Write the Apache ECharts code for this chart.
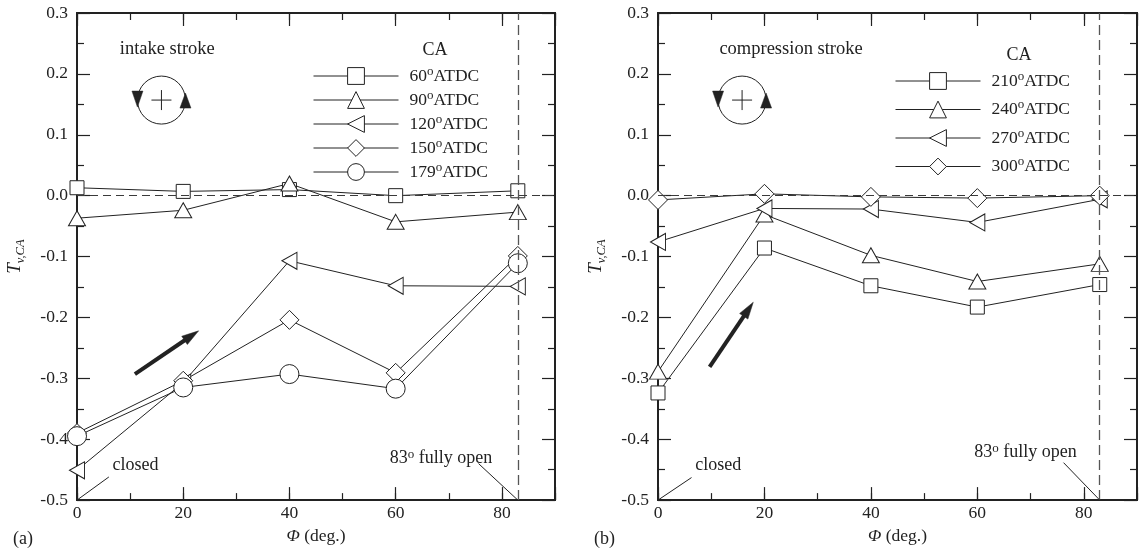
<!DOCTYPE html>
<html><head><meta charset="utf-8">
<script src="https://cdn.jsdelivr.net/npm/echarts@6/dist/echarts.min.js"></script>
<style>html,body{margin:0;padding:0;background:#fff}#c{width:1142px;height:550px}</style>
</head><body><div id="c"></div>
<script>
// ---------------- DATA ----------------
const phi = [0, 20, 40, 60, 83];
const intakeNames = ['60°ATDC', '90°ATDC', '120°ATDC', '150°ATDC', '179°ATDC'];
const intake60  = [0.013, 0.007, 0.010, 0.000, 0.008];
const intake90  = [-0.037, -0.024, 0.020, -0.043, -0.027];
const intake120 = [-0.451, -0.307, -0.107, -0.148, -0.149];
const intake150 = [-0.390, -0.304, -0.204, -0.291, -0.099];
const intake179 = [-0.395, -0.315, -0.293, -0.317, -0.111];
const compNames = ['210°ATDC', '240°ATDC', '270°ATDC', '300°ATDC'];
const comp210 = [-0.324, -0.086, -0.148, -0.183, -0.146];
const comp240 = [-0.289, -0.031, -0.098, -0.141, -0.112];
const comp270 = [-0.076, -0.021, -0.022, -0.044, -0.006];
const comp300 = [-0.007, 0.003, -0.002, -0.004, 0.000];
const xMin = 0, xMax = 90, xMajor = 20, xMinor = 10;
const yMin = -0.5, yMax = 0.3, yMajor = 0.1;
const fullyOpen = 83;
const panelTitles = ['intake stroke', 'compression stroke'];
const panelLetters = ['(a)', '(b)'];
// annotation anchor points in data units
const strokeLabelPos = [[17, 0.24], [25, 0.24]];
const rotIconPos = [[15.9, 0.157], [15.8, 0.157]];
const boldArrowTail = [[10.9, -0.293], [9.7, -0.281]];
const boldArrowHead = [[22.9, -0.222], [17.9, -0.175]];
const closedLineEnd = [[6.0, -0.462], [6.3, -0.463]];
const closedTextPos = [[6.7, -0.443], [7.0, -0.443]];
const openLineStart = [[75.6, -0.44], [76.2, -0.4385]];
const openTextPos = [[58.9, -0.432], [59.4, -0.422]];

// ---------------- STYLE ----------------
const FONT = "'Liberation Serif','Times New Roman',serif";
const INK = '#222';
const leftTri = 'path://M0,5L10,0L10,10Z';
const symbols = ['rect', 'triangle', leftTri, 'diamond', 'circle'];
const symSizes = [14, [17, 15], [15, 17], 19, 19];

const chart = echarts.init(document.getElementById('c'), null, {renderer: 'canvas'});

const grids = [
  {left: 77, top: 13, width: 478, height: 491},
  {left: 658, top: 13, width: 479, height: 491}
];

function xAxes(g) {
  const base = {type: 'value', gridIndex: g, min: xMin, max: xMax, splitLine: {show: false},
    axisLine: {show: true, onZero: false, lineStyle: {color: INK, width: 2}}};
  return [
    Object.assign({}, base, {position: 'bottom', interval: xMajor,
      axisTick: {inside: true, length: 13, lineStyle: {color: INK, width: 1.2}},
      axisLabel: {fontFamily: FONT, fontSize: 17.5, color: INK, margin: 4,
        formatter: v => (v === xMax ? '' : String(v))},
      name: '{i|Φ} (deg.)', nameLocation: 'middle', nameGap: 24,
      nameTextStyle: {fontFamily: FONT, fontSize: 17.5, color: INK,
        rich: {i: {fontFamily: FONT, fontSize: 17.5, fontStyle: 'italic', color: INK}}}}),
    Object.assign({}, base, {position: 'bottom', interval: xMinor,
      axisTick: {inside: true, length: 7, lineStyle: {color: INK, width: 1.2}}, axisLabel: {show: false}}),
    Object.assign({}, base, {position: 'top', interval: xMajor,
      axisTick: {inside: true, length: 13, lineStyle: {color: INK, width: 1.2}}, axisLabel: {show: false}}),
    Object.assign({}, base, {position: 'top', interval: xMinor,
      axisTick: {inside: true, length: 7, lineStyle: {color: INK, width: 1.2}}, axisLabel: {show: false}})
  ];
}
function yAxes(g) {
  const base = {type: 'value', gridIndex: g, min: yMin, max: yMax, interval: yMajor, splitLine: {show: false},
    axisLine: {show: true, onZero: false, lineStyle: {color: INK, width: 2}},
    axisTick: {inside: true, length: 13, lineStyle: {color: INK, width: 1.2}},
    minorTick: {show: true, splitNumber: 2, length: 7, lineStyle: {color: INK, width: 1.2}},
    minorSplitLine: {show: false}};
  return [
    Object.assign({}, base, {position: 'left',
      axisLabel: {fontFamily: FONT, fontSize: 17.5, color: INK, margin: 9, formatter: v => v.toFixed(1)},
      name: '{t|T}{s|v,CA}', nameLocation: 'middle', nameGap: 50,
      nameTextStyle: {fontFamily: FONT, color: INK,
        rich: {t: {fontFamily: FONT, fontSize: 19, fontStyle: 'italic', color: INK, lineHeight: 24},
               s: {fontFamily: FONT, fontSize: 12.5, fontStyle: 'italic', color: INK, lineHeight: 12, verticalAlign: 'bottom'}}}}),
    Object.assign({}, base, {position: 'right', axisLabel: {show: false}})
  ];
}

function mkSeries(name, vals, k, g) {
  return {
    name: name, type: 'line', xAxisIndex: 4 * g, yAxisIndex: 2 * g,
    data: phi.map((p, i) => [p, vals[i]]),
    symbol: symbols[k], symbolSize: symSizes[k], showAllSymbol: true,
    lineStyle: {color: INK, width: 1},
    itemStyle: {color: '#fff', borderColor: INK, borderWidth: 1},
    emphasis: {disabled: true}, animation: false, z: 3
  };
}
function refSeries(g) {
  return {
    name: '', type: 'line', xAxisIndex: 4 * g, yAxisIndex: 2 * g, data: [], z: 6, animation: false,
    markLine: {silent: true, symbol: ['none', 'none'], label: {show: false}, animation: false,
      lineStyle: {type: [8, 5], color: '#3a3a3a', width: 1},
      data: [{yAxis: 0}, {xAxis: fullyOpen, lineStyle: {type: [10, 5], color: '#555', width: 1.3}}]}
  };
}

const intakeVals = [intake60, intake90, intake120, intake150, intake179];
const compVals = [comp210, comp240, comp270, comp300];
const series = [];
intakeNames.forEach((n, k) => series.push(mkSeries(n, intakeVals[k], k, 0)));
compNames.forEach((n, k) => series.push(mkSeries(n, compVals[k], k, 1)));
series.push(refSeries(0), refSeries(1));

const legendText = {fontFamily: FONT, fontSize: 17.5, color: INK, lineHeight: 22, padding: [0, 0, 0, 6],
  rich: {o: {fontFamily: FONT, fontSize: 13, color: INK, lineHeight: 12, verticalAlign: 'top'}}};
const legFmt = n => n.replace('°', '{o|o}');
const legCommon = {orient: 'vertical', padding: 0, itemWidth: 85, itemHeight: 21, selectedMode: false,
  textStyle: legendText, formatter: legFmt,
  itemStyle: {color: '#fff', borderColor: INK, borderWidth: 1},
  lineStyle: {color: INK, width: 1}};

chart.setOption({
  animation: false,
  backgroundColor: '#fff',
  grid: grids,
  xAxis: xAxes(0).concat(xAxes(1)),
  yAxis: yAxes(0).concat(yAxes(1)),
  legend: [
    Object.assign({}, legCommon, {data: intakeNames, left: 313, top: 65, itemGap: 2}),
    Object.assign({}, legCommon, {data: compNames, left: 895, top: 70, itemGap: 6.5})
  ],
  series: series
});

// ---------------- annotations (placed via the chart's own scales) ----------------
const seriesOfPanel = [0, 5];
function px(g, pt) { return chart.convertToPixel({seriesIndex: seriesOfPanel[g]}, pt); }
const txt = (x, y, text, align, size) => ({
  type: 'text', x: x, y: y, z: 20, silent: true,
  style: {text: text, fontFamily: FONT, fontSize: size || 18, fill: INK, align: align || 'left',
    verticalAlign: 'middle',
    rich: {o: {fontFamily: FONT, fontSize: 13, fill: INK, lineHeight: 12, verticalAlign: 'top'},
           n: {fontFamily: FONT, fontSize: size || 18, fill: INK, lineHeight: 22}}}
});
const line = (a, b, w) => ({type: 'line', z: 20, silent: true,
  shape: {x1: a[0], y1: a[1], x2: b[0], y2: b[1]}, style: {stroke: INK, lineWidth: w || 1}});
const poly = (pts) => ({type: 'polygon', z: 20, silent: true, shape: {points: pts}, style: {fill: INK, stroke: INK, lineWidth: 0.5}});

const els = [];
[0, 1].forEach(g => {
  const sp = px(g, strokeLabelPos[g]);
  els.push(txt(sp[0], sp[1], panelTitles[g], 'center', 18.5));
  const c = px(g, rotIconPos[g]);
  const r = 24;
  els.push({type: 'circle', z: 20, silent: true, shape: {cx: c[0], cy: c[1], r: r}, style: {fill: 'none', stroke: INK, lineWidth: 1}});
  els.push(line([c[0] - 10, c[1]], [c[0] + 10, c[1]], 1));
  els.push(line([c[0], c[1] - 10], [c[0], c[1] + 10], 1));
  els.push(poly([[c[0] - r - 5.5, c[1] - 9], [c[0] - r + 5.5, c[1] - 9], [c[0] - r, c[1] + 7]]));
  els.push(poly([[c[0] + r - 5.5, c[1] + 8], [c[0] + r + 5.5, c[1] + 8], [c[0] + r, c[1] - 7]]));
  const t = px(g, boldArrowTail[g]), h = px(g, boldArrowHead[g]);
  const dx = h[0] - t[0], dy = h[1] - t[1], len = Math.hypot(dx, dy);
  const ux = dx / len, uy = dy / len, nx = -uy, ny = ux, L = 17, W = 5;
  const b = [h[0] - ux * L, h[1] - uy * L];
  els.push(line(t, [b[0] + ux * 2, b[1] + uy * 2], 4));
  els.push(poly([h, [b[0] + nx * W, b[1] + ny * W], [b[0] - nx * W, b[1] - ny * W]]));
  els.push(line(px(g, [xMin, yMin]), px(g, closedLineEnd[g]), 1));
  const cp = px(g, closedTextPos[g]);
  els.push(txt(cp[0], cp[1], 'closed', 'left', 18));
  els.push(line(px(g, openLineStart[g]), px(g, [fullyOpen, yMin]), 1));
  const op = px(g, openTextPos[g]);
  els.push(txt(op[0], op[1], '{n|' + fullyOpen + '}{o|o}{n| fully open}', 'left', 18));
});
els.push(txt(435, 50, 'CA', 'center', 18));
els.push(txt(1019, 55, 'CA', 'center', 18));
els.push(txt(13, 539, panelLetters[0], 'left', 18));
els.push(txt(594, 539, panelLetters[1], 'left', 18));

chart.setOption({graphic: {elements: els}});
</script>
</body></html>
